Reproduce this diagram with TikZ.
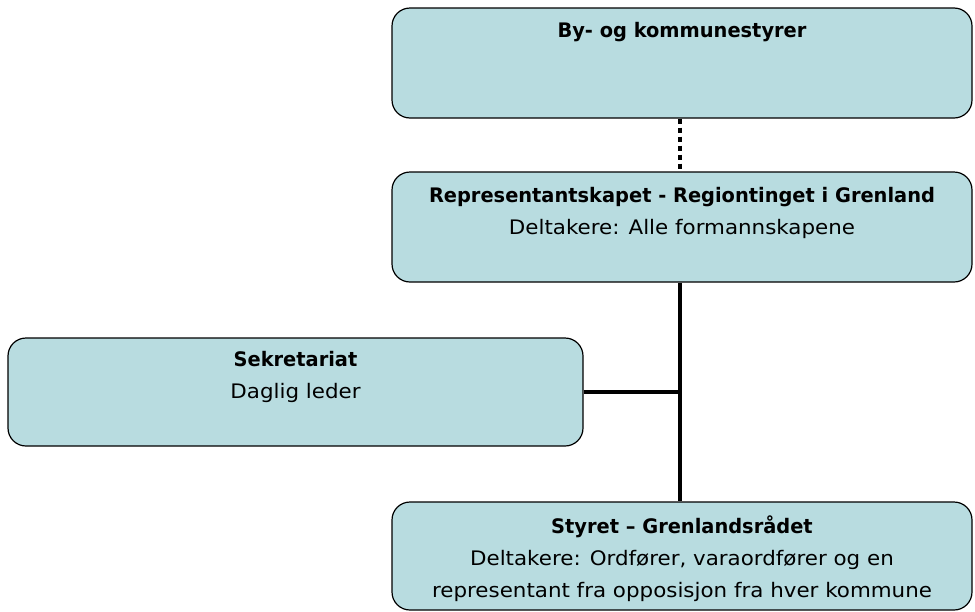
\documentclass[tikz,border=0pt]{standalone}
\usepackage{fontspec}
\setmainfont{DejaVu Sans}[FakeStretch=1.07, BoldFeatures={FakeStretch=0.97}]
\usetikzlibrary{positioning}
\definecolor{boxfill}{RGB}{184,220,224}

\begin{document}
\begin{tikzpicture}[
  x=1pt, y=-1pt,
  box/.style={rectangle, rounded corners=18pt, draw, line width=1.2pt, fill=boxfill, minimum width=580pt, minimum height=110pt, inner sep=0pt},
  txt/.style={align=center, font=\fontsize{20}{32}\selectfont, inner sep=0pt},
  link/.style={line width=4.5pt}
]
\useasboundingbox (0,0) rectangle (975,611);

% --- Bokser ---
\node[box] (bystyre) at (682,63) {};
\node[box] (regting) at (682,227) {};
\node[box, minimum width=575pt, minimum height=108pt] (sekr) at (295.5,392) {};
\node[box, minimum height=108pt] (styret) at (682,556) {};

% --- Tekst ---
\node[txt, below=15pt of bystyre.north] (bystyre_t) {\textbf{By- og kommunestyrer}};
\node[txt, below=16pt of regting.north] (regting_t) {\textbf{Representantskapet - Regiontinget i Grenland}\\Deltakere: Alle formannskapene};
\node[txt, below=14pt of sekr.north] (sekr_t) {\textbf{Sekretariat}\\Daglig leder};
\node[txt, below=14pt of styret.north] (styret_t) {\textbf{Styret – Grenlandsrådet}\\Deltakere: Ordfører, varaordfører og en\\representant fra opposisjon fra hver kommune};

% --- Linjer ---
\draw[link, dash pattern=on 5pt off 4pt] ([xshift=-2pt]bystyre.south) -- ([xshift=-2pt]regting.north);
\draw[link] ([xshift=-2pt]regting.south) -- ([xshift=-2pt]styret.north);
\coordinate (kryss) at ([xshift=-2pt]regting.south |- sekr.east);
\draw[link] (sekr.east) -- (kryss);

\end{tikzpicture}
\end{document}
